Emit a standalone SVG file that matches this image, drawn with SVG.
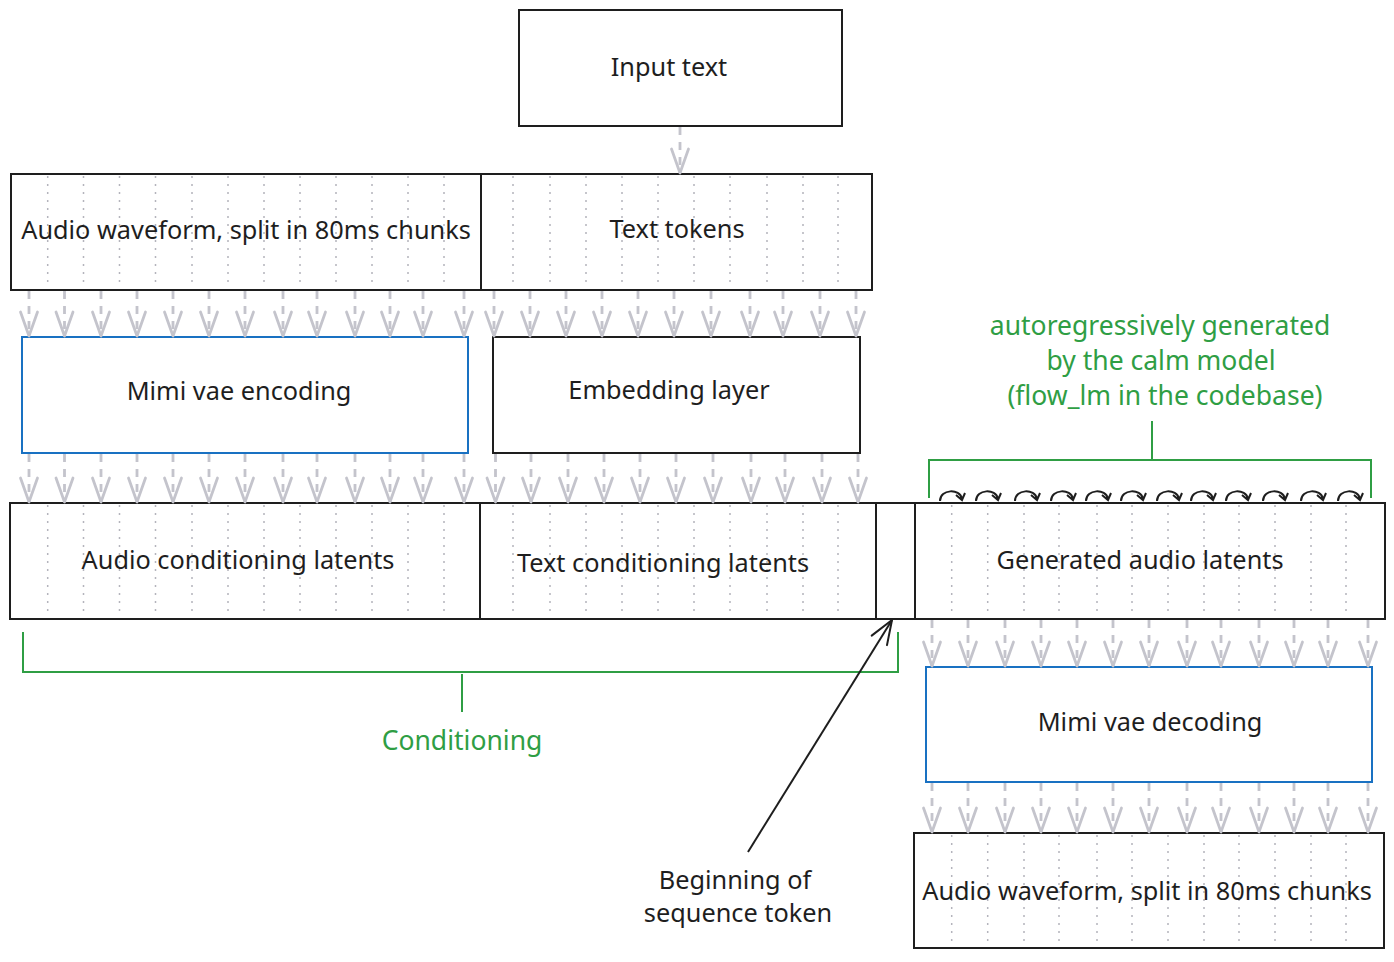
<svg xmlns="http://www.w3.org/2000/svg" width="1394" height="962" viewBox="0 0 1394 962">
<defs>
<style>
.box{fill:#ffffff;stroke:#1e1e1e;stroke-width:2}
.blue{fill:#ffffff;stroke:#1971c2;stroke-width:2}
.dots{stroke:#b4b4bc;stroke-width:1.5;stroke-dasharray:2 6;fill:none}
.arr path{stroke:#c4c4cc;stroke-width:2.8;stroke-dasharray:8 7;fill:none;marker-end:url(#vhead)}
.t{font-family:"Noto Sans","Open Sans",sans-serif;font-size:25.3px;fill:#1e1e1e;text-anchor:middle}
.g{fill:#2f9e44;font-size:26.5px}
.br{stroke:#2f9e44;stroke-width:2;fill:none}
.loop{stroke:#1e1e1e;stroke-width:2;fill:none}
</style>
<marker id="vhead" markerUnits="userSpaceOnUse" viewBox="-26 -11 30 22" refX="0" refY="0" markerWidth="30" markerHeight="22" orient="auto">
<path d="M -24 -8.5 L 0 0 L -24 8.5" fill="none" stroke="#c4c4cc" stroke-width="2.8" stroke-linecap="round" stroke-linejoin="round"/>
</marker>
<marker id="bhead" markerUnits="userSpaceOnUse" viewBox="-26 -11 30 22" refX="0" refY="0" markerWidth="30" markerHeight="22" orient="auto">
<path d="M -24 -9 L 0 0 L -24 9" fill="none" stroke="#1e1e1e" stroke-width="2" stroke-linecap="round" stroke-linejoin="round"/>
</marker>
</defs>
<rect width="1394" height="962" fill="#ffffff"/>

<g id="input-text">
<rect class="box" x="519" y="10" width="323" height="116"/>
<text class="t" x="669" y="76">Input text</text>
</g>

<g id="audio-waveform-in">
<rect class="box" x="11" y="174" width="470" height="116"/>
<path class="dots" d="M47.7 176V288M83.5 176V288M119.5 176V288M155.5 176V288M192 176V288M228 176V288M264 176V288M300 176V288M336 176V288M372 176V288M408 176V288M444 176V288"/>
<text class="t" x="246" y="239">Audio waveform, split in 80ms chunks</text>
</g>

<g id="text-tokens">
<rect class="box" x="481" y="174" width="391" height="116"/>
<path class="dots" d="M513 176V288M550 176V288M586 176V288M622 176V288M658 176V288M694 176V288M730 176V288M767 176V288M803 176V288M838 176V288"/>
<text class="t" x="677" y="238">Text tokens</text>
</g>

<g id="mimi-encoding">
<rect class="blue" x="22" y="337" width="446" height="116"/>
<text class="t" x="239" y="400">Mimi vae encoding</text>
</g>

<g id="embedding-layer">
<rect class="box" x="493" y="337" width="367" height="116"/>
<text class="t" x="669" y="399">Embedding layer</text>
</g>

<g id="audio-cond">
<rect class="box" x="10" y="503" width="470" height="116"/>
<path class="dots" d="M47.7 505V617M83.5 505V617M119.5 505V617M155.5 505V617M192 505V617M228 505V617M264 505V617M300 505V617M336 505V617M372 505V617M408 505V617M444 505V617"/>
<text class="t" x="238" y="569">Audio conditioning latents</text>
</g>

<g id="text-cond">
<rect class="box" x="480" y="503" width="396" height="116"/>
<path class="dots" d="M513 505V617M550 505V617M586 505V617M622 505V617M658 505V617M694 505V617M730 505V617M767 505V617M803 505V617M838 505V617"/>
<text class="t" x="663" y="572">Text conditioning latents</text>
</g>

<g id="bos-token">
<rect class="box" x="876" y="503" width="39" height="116"/>
</g>

<g id="generated-latents">
<rect class="box" x="915" y="503" width="470" height="116"/>
<path class="dots" d="M951.7 505V617M987.7 505V617M1024 505V617M1059 505V617M1097 505V617M1132 505V617M1168 505V617M1204 505V617M1239 505V617M1275 505V617M1311 505V617M1346 505V617"/>
<text class="t" x="1140" y="569">Generated audio latents</text>
</g>

<g id="mimi-decoding">
<rect class="blue" x="926" y="667" width="446" height="115"/>
<text class="t" x="1150" y="731">Mimi vae decoding</text>
</g>

<g id="audio-waveform-out">
<rect class="box" x="914" y="833" width="470" height="115"/>
<path class="dots" d="M951.7 835V946M987.7 835V946M1024 835V946M1059 835V946M1097 835V946M1132 835V946M1168 835V946M1204 835V946M1239 835V946M1275 835V946M1311 835V946M1346 835V946"/>
<text class="t" x="1147" y="900">Audio waveform, split in 80ms chunks</text>
</g>

<g id="autoregressive-label">
<path class="br" d="M929 498V460H1371V498M1152 460V421"/>
<text class="t g" x="1160" y="335">autoregressively generated</text>
<text class="t g" x="1161" y="370">by the calm model</text>
<text class="t g" x="1165" y="405">(flow_lm in the codebase)</text>
</g>

<g id="conditioning-label">
<path class="br" d="M23 632V672H898V632M462 674V712"/>
<text class="t g" x="462" y="750">Conditioning</text>
</g>

<g id="bos-label">
<text class="t" x="735" y="889">Beginning of</text>
<text class="t" x="738" y="922">sequence token</text>
</g>

<g id="connectors">
<g class="arr">
<path d="M680 127V173"/>
<path d="M29 291V336"/><path d="M64.5 291V336"/><path d="M101 291V336"/><path d="M137 291V336"/><path d="M173 291V336"/><path d="M209 291V336"/><path d="M245 291V336"/><path d="M283 291V336"/><path d="M317 291V336"/><path d="M355 291V336"/><path d="M390 291V336"/><path d="M423 291V336"/><path d="M464 291V336"/>
<path d="M494 291V336"/><path d="M530 291V336"/><path d="M566 291V336"/><path d="M602 291V336"/><path d="M638 291V336"/><path d="M674 291V336"/><path d="M711 291V336"/><path d="M750 291V336"/><path d="M783 291V336"/><path d="M820 291V336"/><path d="M856 291V336"/>
<path d="M29 454V502"/><path d="M64.5 454V502"/><path d="M101 454V502"/><path d="M137 454V502"/><path d="M173 454V502"/><path d="M209 454V502"/><path d="M245 454V502"/><path d="M283 454V502"/><path d="M317 454V502"/><path d="M355 454V502"/><path d="M390 454V502"/><path d="M423 454V502"/><path d="M464 454V502"/>
<path d="M495.5 454V502"/><path d="M531 454V502"/><path d="M568 454V502"/><path d="M604 454V502"/><path d="M640 454V502"/><path d="M676 454V502"/><path d="M713 454V502"/><path d="M751 454V502"/><path d="M785 454V502"/><path d="M822 454V502"/><path d="M858 454V502"/>
<path d="M932 620V666"/><path d="M968 620V666"/><path d="M1005 620V666"/><path d="M1041 620V666"/><path d="M1077 620V666"/><path d="M1113 620V666"/><path d="M1149 620V666"/><path d="M1187 620V666"/><path d="M1221 620V666"/><path d="M1259 620V666"/><path d="M1294 620V666"/><path d="M1328 620V666"/><path d="M1368 620V666"/>
<path d="M932 783V832"/><path d="M968 783V832"/><path d="M1005 783V832"/><path d="M1041 783V832"/><path d="M1077 783V832"/><path d="M1113 783V832"/><path d="M1149 783V832"/><path d="M1187 783V832"/><path d="M1221 783V832"/><path d="M1259 783V832"/><path d="M1294 783V832"/><path d="M1328 783V832"/><path d="M1368 783V832"/>
</g>
<path d="M748 852L892 620" stroke="#1e1e1e" stroke-width="2" fill="none" marker-end="url(#bhead)"/>
<g class="loop">
<path d="M940 501C940 489 960 488 962 499M956 495L962 500L965 493"/>
<path d="M976 501C976 489 996 488 998 499M992 495L998 500L1001 493"/>
<path d="M1015 501C1015 489 1035 488 1037 499M1031 495L1037 500L1040 493"/>
<path d="M1051 501C1051 489 1071 488 1073 499M1067 495L1073 500L1076 493"/>
<path d="M1086 501C1086 489 1106 488 1108 499M1102 495L1108 500L1111 493"/>
<path d="M1121 501C1121 489 1141 488 1143 499M1137 495L1143 500L1146 493"/>
<path d="M1157 501C1157 489 1177 488 1179 499M1173 495L1179 500L1182 493"/>
<path d="M1191 501C1191 489 1211 488 1213 499M1207 495L1213 500L1216 493"/>
<path d="M1226 501C1226 489 1246 488 1248 499M1242 495L1248 500L1251 493"/>
<path d="M1263 501C1263 489 1283 488 1285 499M1279 495L1285 500L1288 493"/>
<path d="M1301 501C1301 489 1321 488 1323 499M1317 495L1323 500L1326 493"/>
<path d="M1338 501C1338 489 1358 488 1360 499M1354 495L1360 500L1363 493"/>
</g>
</g>
</svg>
